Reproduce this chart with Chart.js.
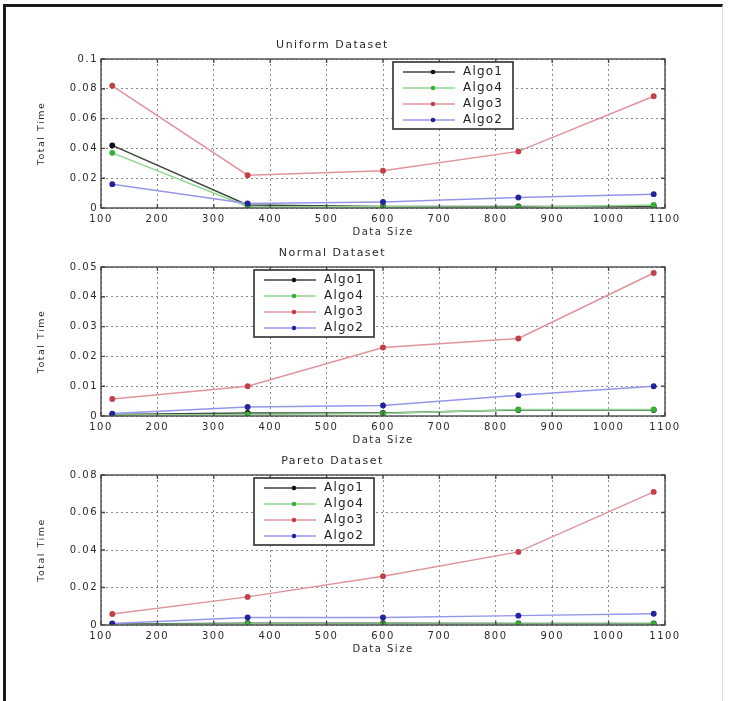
<!DOCTYPE html>
<html>
<head>
<meta charset="utf-8">
<script src="https://cdn.jsdelivr.net/npm/chart.js@4/dist/chart.umd.min.js"></script>
<style>
  html, body { margin: 0; padding: 0; background: #fff; }
  body { width: 730px; height: 701px; position: relative; overflow: hidden; }
  #frame {
    position: absolute; left: 3px; top: 4px; width: 716px; height: 720px;
    border-left: 3px solid #1b1b1b; border-top: 3px solid #1b1b1b; border-right: 1px solid #dcdcdc;
  }
  .plot { position: absolute; left: 0; width: 730px; }
</style>
</head>
<body>
<div id="frame"></div>
<div class="plot" style="top:29px"><canvas id="uniformChart" width="730" height="211"></canvas></div>
<div class="plot" style="top:237px"><canvas id="normalChart" width="730" height="211"></canvas></div>
<div class="plot" style="top:445px"><canvas id="paretoChart" width="730" height="212"></canvas></div>

<script>
/* -----------------------------
   Data
------------------------------ */
const dataSizes = [120, 360, 600, 840, 1080];
const algoNames = ['Algo1', 'Algo4', 'Algo3', 'Algo2'];

const uniformAlgo1 = [0.042, 0.002, 0.001, 0.001, 0.001];
const uniformAlgo4 = [0.037, 0.001, 0.0008, 0.0005, 0.002];
const uniformAlgo3 = [0.082, 0.022, 0.025, 0.038, 0.075];
const uniformAlgo2 = [0.016, 0.003, 0.004, 0.007, 0.0093];

const normalAlgo1 = [0.0005, 0.001, 0.001, 0.002, 0.002];
const normalAlgo4 = [0.0003, 0.0005, 0.0008, 0.0022, 0.0022];
const normalAlgo3 = [0.0057, 0.010, 0.023, 0.026, 0.048];
const normalAlgo2 = [0.0008, 0.003, 0.0035, 0.007, 0.010];

const paretoAlgo1 = [0.0005, 0.001, 0.001, 0.0008, 0.0008];
const paretoAlgo4 = [0.0003, 0.0005, 0.0005, 0.0005, 0.0005];
const paretoAlgo3 = [0.0059, 0.015, 0.026, 0.039, 0.071];
const paretoAlgo2 = [0.0008, 0.004, 0.004, 0.005, 0.006];

// line colour, marker colour, draw order (Algo2 ends up on top like matlab)
const lineColors = ['#3a483b', '#8fd68f', '#e0939c', '#9595ec'];
const markColors = ['#111111', '#35b035', '#c2404c', '#23239c'];
const drawOrder = [4, 3, 2, 1];

Chart.defaults.font.family = "'DejaVu Sans', sans-serif";
Chart.defaults.color = '#2a2a2a';

/* -----------------------------
   Matlab-ish axes box + inner ticks
------------------------------ */
const axesBox = {
  id: 'axesBox',
  beforeDraw(chart) {
    chart.ctx.letterSpacing = '1.5px';
  },
  afterDatasetsDraw(chart) {
    const { ctx, chartArea: a, scales } = chart;
    ctx.save();
    ctx.strokeStyle = '#4a4a4a';
    ctx.lineWidth = 1.4;
    ctx.strokeRect(a.left, a.top, a.right - a.left, a.bottom - a.top);
    ctx.beginPath();
    scales.x.ticks.forEach(t => {
      const px = scales.x.getPixelForValue(t.value);
      ctx.moveTo(px, a.bottom); ctx.lineTo(px, a.bottom - 4);
      ctx.moveTo(px, a.top); ctx.lineTo(px, a.top + 4);
    });
    scales.y.ticks.forEach(t => {
      const py = scales.y.getPixelForValue(t.value);
      ctx.moveTo(a.left, py); ctx.lineTo(a.left + 4, py);
      ctx.moveTo(a.right, py); ctx.lineTo(a.right - 4, py);
    });
    ctx.stroke();
    ctx.restore();
  }
};

/* -----------------------------
   Boxed legend inside the plot
------------------------------ */
const boxLegend = {
  id: 'boxLegend',
  afterDraw(chart, args, opts) {
    const { ctx, chartArea: a } = chart;
    const x = a.left + opts.left;
    const y = a.top + opts.top;
    ctx.save();
    ctx.fillStyle = '#fff';
    ctx.fillRect(x, y, 120, 67);
    ctx.strokeStyle = '#2e2e2e';
    ctx.lineWidth = 1.6;
    ctx.strokeRect(x, y, 120, 67);
    ctx.font = "12px 'DejaVu Sans'";
    ctx.letterSpacing = '1.2px';
    ctx.textBaseline = 'middle';
    chart.data.datasets.forEach((ds, i) => {
      const ry = y + 10 + i * 16;
      ctx.strokeStyle = ds.borderColor;
      ctx.lineWidth = 1.4;
      ctx.beginPath();
      ctx.moveTo(x + 10, ry); ctx.lineTo(x + 62, ry);
      ctx.stroke();
      ctx.fillStyle = ds.pointBackgroundColor;
      ctx.beginPath();
      ctx.arc(x + 40, ry, 2.3, 0, Math.PI * 2);
      ctx.fill();
      ctx.fillStyle = '#1e1e1e';
      ctx.fillText(ds.label, x + 70, ry);
    });
    ctx.restore();
  }
};

function makeChart(canvasId, title, series, yMax, yStep, legendLeft) {
  const ctx = document.getElementById(canvasId).getContext('2d');
  return new Chart(ctx, {
    type: 'line',
    data: {
      datasets: series.map((vals, i) => ({
        label: algoNames[i],
        data: dataSizes.map((s, j) => ({ x: s, y: vals[j] })),
        borderColor: lineColors[i],
        backgroundColor: markColors[i],
        pointBackgroundColor: markColors[i],
        pointBorderColor: markColors[i],
        pointRadius: 2.2,
        borderWidth: 1.5,
        tension: 0,
        fill: false,
        order: drawOrder[i]
      }))
    },
    options: {
      responsive: false,
      animation: false,
      layout: { padding: { left: 0, right: 65, top: 0, bottom: 0 } },
      plugins: {
        legend: { display: false },
        tooltip: { enabled: false },
        title: {
          display: true,
          text: title,
          font: { size: 11, weight: 'normal' },
          color: '#2a2a2a',
          padding: { top: 9.4, bottom: 7.4 }
        },
        boxLegend: { left: legendLeft, top: 3 }
      },
      scales: {
        x: {
          type: 'linear',
          min: 100,
          max: 1100,
          afterFit: s => { s.height = 32; },
          ticks: {
            stepSize: 100,
            autoSkip: false,
            maxRotation: 0,
            padding: 5,
            font: { size: 10 },
            callback: v => String(v)
          },
          grid: { color: '#8a8a8a', drawTicks: false },
          border: { display: false, dash: [2, 3] },
          title: {
            display: true,
            text: 'Data Size',
            font: { size: 10 },
            padding: { top: 0, bottom: 2 }
          }
        },
        y: {
          min: 0,
          max: yMax,
          afterFit: s => { s.width = 101; },
          ticks: {
            stepSize: yStep,
            padding: 3,
            font: { size: 10 },
            callback: v => String(+v.toFixed(3))
          },
          grid: { color: '#8a8a8a', drawTicks: false },
          border: { display: false, dash: [2, 3] },
          title: {
            display: true,
            text: 'Total Time',
            font: { size: 9.5 },
            padding: { top: 36, bottom: 0 }
          }
        }
      }
    },
    plugins: [axesBox, boxLegend]
  });
}

makeChart('uniformChart', 'Uniform Dataset',
  [uniformAlgo1, uniformAlgo4, uniformAlgo3, uniformAlgo2], 0.1, 0.02, 292);
makeChart('normalChart', 'Normal Dataset',
  [normalAlgo1, normalAlgo4, normalAlgo3, normalAlgo2], 0.05, 0.01, 153);
makeChart('paretoChart', 'Pareto Dataset',
  [paretoAlgo1, paretoAlgo4, paretoAlgo3, paretoAlgo2], 0.08, 0.02, 153);
</script>
</body>
</html>
